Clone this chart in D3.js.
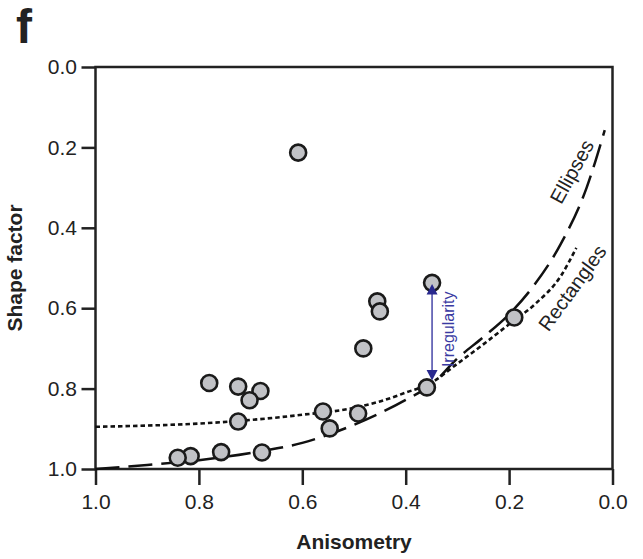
<!DOCTYPE html>
<html lang="en">
<head>
  <meta charset="UTF-8" />
  <title>Shape factor vs anisometry</title>
  <script src="https://d3js.org/d3.v7.min.js"></script>
  <style>
    body { margin: 0; background: #fff; font-family: "Liberation Sans", Arial, sans-serif; }
    svg text { fill: #222; }
  </style>
</head>
<body>
  <svg width="643" height="559"></svg>

  <script>
    // measured particles: anisometry, shape factor
    const anisometry = [0.608, 0.349, 0.455, 0.450, 0.190, 0.482, 0.780, 0.681, 0.724, 0.702,
                        0.724, 0.560, 0.492, 0.547, 0.359, 0.816, 0.841, 0.757, 0.678];
    const shapeFactor = [0.213, 0.537, 0.583, 0.608, 0.623, 0.700, 0.786, 0.806, 0.795, 0.829,
                         0.882, 0.857, 0.862, 0.899, 0.797, 0.968, 0.972, 0.958, 0.959];

    // reference curves
    const ellipseX = [1.0, 0.9, 0.8, 0.7, 0.6, 0.5, 0.4, 0.35, 0.3, 0.25, 0.2, 0.15, 0.1, 0.05, 0.015];
    const ellipseY = [1.0, 0.99, 0.978, 0.96, 0.935, 0.89, 0.828, 0.79, 0.725, 0.672, 0.615, 0.54, 0.44, 0.30, 0.157];
    const rectX = [1.0, 0.9, 0.8, 0.7, 0.6, 0.5, 0.45, 0.4, 0.35, 0.3, 0.25, 0.2, 0.15, 0.1, 0.07];
    const rectY = [0.895, 0.892, 0.887, 0.878, 0.865, 0.848, 0.832, 0.81, 0.785, 0.738, 0.69, 0.64, 0.59, 0.52, 0.45];

    const ticks = [0, 0.2, 0.4, 0.6, 0.8, 1.0];
    // irregularity arrow: x, from, to
    const irregularity = { x: 0.349, from: 0.54, to: 0.78 };

    const svg = d3.select("svg");
    const x = d3.scaleLinear().domain([1, 0]).range([95.5, 612.5]);
    const y = d3.scaleLinear().domain([0, 1]).range([67, 469]);

    // panel letter
    svg.append("text")
      .attr("x", 16).attr("y", 43)
      .style("font-size", "48px").style("font-weight", "bold")
      .text("f");

    // axes
    const xAxis = svg.append("g")
      .attr("transform", `translate(0,${y(1)})`)
      .call(d3.axisBottom(x).tickValues(ticks).tickFormat(d3.format(".1f"))
        .tickSize(16).tickPadding(9).tickSizeOuter(0));
    const yAxis = svg.append("g")
      .attr("transform", `translate(${x(1)},0)`)
      .call(d3.axisLeft(y).tickValues(ticks).tickFormat(d3.format(".1f"))
        .tickSize(14).tickPadding(4.5).tickSizeOuter(0));
    [xAxis, yAxis].forEach(g => {
      g.select(".domain").remove();
      g.selectAll("line").attr("stroke", "#222").attr("stroke-width", 2.5);
      g.selectAll("text").style("font-size", "21px").attr("font-family", null);
    });

    // frame
    svg.append("rect")
      .attr("x", x(1)).attr("y", y(0))
      .attr("width", x(0) - x(1)).attr("height", y(1) - y(0))
      .attr("fill", "none").attr("stroke", "#222").attr("stroke-width", 2.5);

    // axis titles
    svg.append("text")
      .attr("x", (x(1) + x(0)) / 2).attr("y", 549)
      .attr("text-anchor", "middle")
      .style("font-size", "21px").style("font-weight", "bold")
      .text("Anisometry");
    svg.append("text")
      .attr("transform", `translate(22,${(y(0) + y(1)) / 2}) rotate(-90)`)
      .attr("text-anchor", "middle")
      .style("font-size", "21px").style("font-weight", "bold")
      .text("Shape factor");

    // curves
    const line = d3.line().x(d => x(d[0])).y(d => y(d[1])).curve(d3.curveMonotoneX);
    svg.append("path")
      .datum(d3.zip(rectX, rectY))
      .attr("d", line)
      .attr("fill", "none").attr("stroke", "#111").attr("stroke-width", 2.6)
      .attr("stroke-dasharray", "4.5,3");
    svg.append("path")
      .datum(d3.zip(ellipseX, ellipseY))
      .attr("d", line)
      .attr("fill", "none").attr("stroke", "#111").attr("stroke-width", 2.5)
      .attr("stroke-dasharray", "24,9");

    // curve labels
    svg.append("text")
      .attr("transform", `translate(578,175) rotate(-61)`)
      .attr("text-anchor", "middle")
      .style("font-size", "20px")
      .text("Ellipses");
    svg.append("text")
      .attr("transform", `translate(578,292) rotate(-54)`)
      .attr("text-anchor", "middle")
      .style("font-size", "20px")
      .text("Rectangles");

    // points
    svg.append("g")
      .selectAll("circle")
      .data(d3.zip(anisometry, shapeFactor))
      .join("circle")
      .attr("cx", d => x(d[0]))
      .attr("cy", d => y(d[1]))
      .attr("r", 8)
      .attr("fill", "#c1c2c6")
      .attr("stroke", "#1a1a1a")
      .attr("stroke-width", 2.6);

    // irregularity arrow
    const ax = x(irregularity.x), y1 = y(irregularity.from), y2 = y(irregularity.to);
    svg.append("line")
      .attr("x1", ax).attr("x2", ax).attr("y1", y1 + 8).attr("y2", y2 - 8)
      .attr("stroke", "#5252ad").attr("stroke-width", 1.6);
    svg.append("path")
      .attr("d", `M${ax},${y1} l-5.5,10.5 h11 Z M${ax},${y2} l-5.5,-10.5 h11 Z`)
      .attr("fill", "#28288e");
    svg.append("text")
      .attr("transform", `translate(454,${(y1 + y2) / 2 - 3}) rotate(-90)`)
      .attr("text-anchor", "middle")
      .style("font-size", "16px")
      .style("fill", "#3a3aa2")
      .text("Irregularity");
  </script>
</body>
</html>
